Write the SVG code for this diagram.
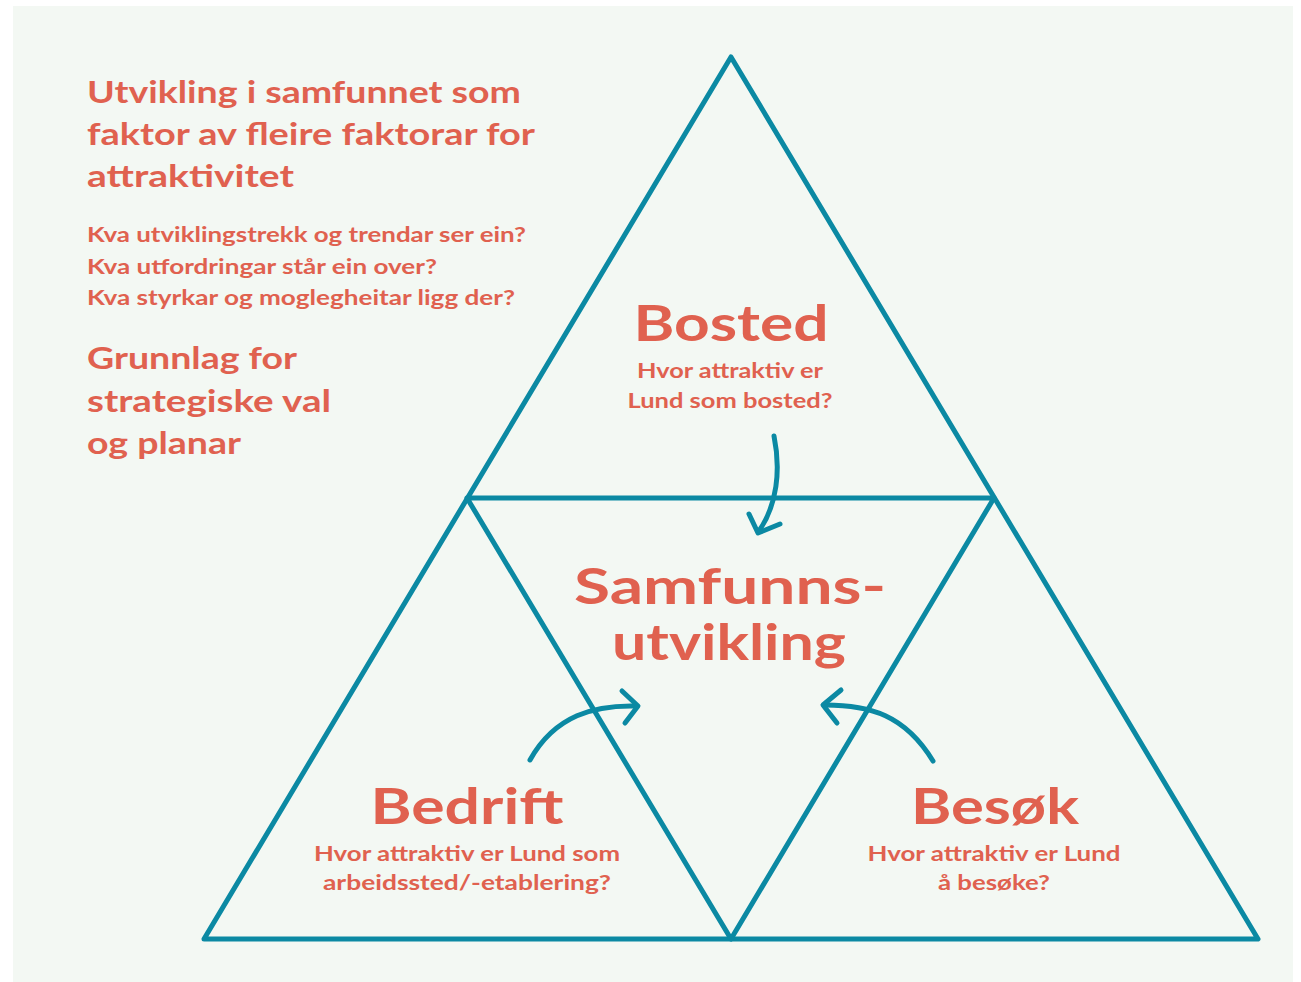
<svg xmlns="http://www.w3.org/2000/svg" width="1301" height="982" viewBox="0 0 1301 982">
<style>
.t{font-family:Lato,"Noto Sans","Liberation Sans",sans-serif;font-weight:700;fill:#e0614f}
.ln{fill:none;stroke:#0b89a3;stroke-width:5;stroke-linecap:round;stroke-linejoin:round}
.mid{text-anchor:middle}
</style>
<rect x="0" y="0" width="1301" height="982" fill="#ffffff"/>
<rect x="13" y="6" width="1280" height="976" fill="#f3f8f3"/>
<g id="intro">
<text class="t" font-size="31" x="87" y="103" textLength="434" lengthAdjust="spacingAndGlyphs">Utvikling i samfunnet som</text>
<text class="t" font-size="31" x="87" y="145" textLength="448" lengthAdjust="spacingAndGlyphs">faktor av fleire faktorar for</text>
<text class="t" font-size="31" x="87" y="187" textLength="207" lengthAdjust="spacingAndGlyphs">attraktivitet</text>
<text class="t" font-size="21" x="87" y="242" textLength="439" lengthAdjust="spacingAndGlyphs">Kva utviklingstrekk og trendar ser ein?</text>
<text class="t" font-size="21" x="87" y="274" textLength="350" lengthAdjust="spacingAndGlyphs">Kva utfordringar står ein over?</text>
<text class="t" font-size="21" x="87" y="305" textLength="428" lengthAdjust="spacingAndGlyphs">Kva styrkar og moglegheitar ligg der?</text>
<text class="t" font-size="31" x="87" y="369" textLength="210" lengthAdjust="spacingAndGlyphs">Grunnlag for</text>
<text class="t" font-size="31" x="87" y="412" textLength="244" lengthAdjust="spacingAndGlyphs">strategiske val</text>
<text class="t" font-size="31" x="87" y="454" textLength="154" lengthAdjust="spacingAndGlyphs">og planar</text>
</g>
<g id="connectors">
<polygon class="ln" points="731,57 1258,939 204,939"/>
<polygon class="ln" points="467,498 994,498 731,939"/>
<path class="ln" d="M774,436 C781,470 777,505 759,531"/>
<polyline class="ln" points="749,514 758,533 780,524"/>
<path class="ln" d="M530,760 C555,715 595,705 636,706"/>
<polyline class="ln" points="622,691 638,706 625,723"/>
<path class="ln" d="M933,761 C905,715 870,705 825,705"/>
<polyline class="ln" points="841,690 823,705 837,723"/>
</g>
<g id="bosted">
<text class="t mid" font-size="50" x="731" y="341" textLength="195" lengthAdjust="spacingAndGlyphs">Bosted</text>
<text class="t mid" font-size="21" x="730" y="378" textLength="186" lengthAdjust="spacingAndGlyphs">Hvor attraktiv er</text>
<text class="t mid" font-size="21" x="730" y="408" textLength="205" lengthAdjust="spacingAndGlyphs">Lund som bosted?</text>
</g>
<g id="samfunnsutvikling">
<text class="t mid" font-size="50" x="730" y="604" textLength="312" lengthAdjust="spacingAndGlyphs">Samfunns-</text>
<text class="t mid" font-size="50" x="729" y="660" textLength="234" lengthAdjust="spacingAndGlyphs">utvikling</text>
</g>
<g id="bedrift">
<text class="t mid" font-size="50" x="467" y="824" textLength="193" lengthAdjust="spacingAndGlyphs">Bedrift</text>
<text class="t mid" font-size="21" x="467" y="861" textLength="306" lengthAdjust="spacingAndGlyphs">Hvor attraktiv er Lund som</text>
<text class="t mid" font-size="21" x="467" y="890" textLength="288" lengthAdjust="spacingAndGlyphs">arbeidssted/-etablering?</text>
</g>
<g id="besok">
<text class="t mid" font-size="50" x="995" y="824" textLength="168" lengthAdjust="spacingAndGlyphs">Besøk</text>
<text class="t mid" font-size="21" x="994" y="861" textLength="253" lengthAdjust="spacingAndGlyphs">Hvor attraktiv er Lund</text>
<text class="t mid" font-size="21" x="994" y="890" textLength="112" lengthAdjust="spacingAndGlyphs">å besøke?</text>
</g>
</svg>
